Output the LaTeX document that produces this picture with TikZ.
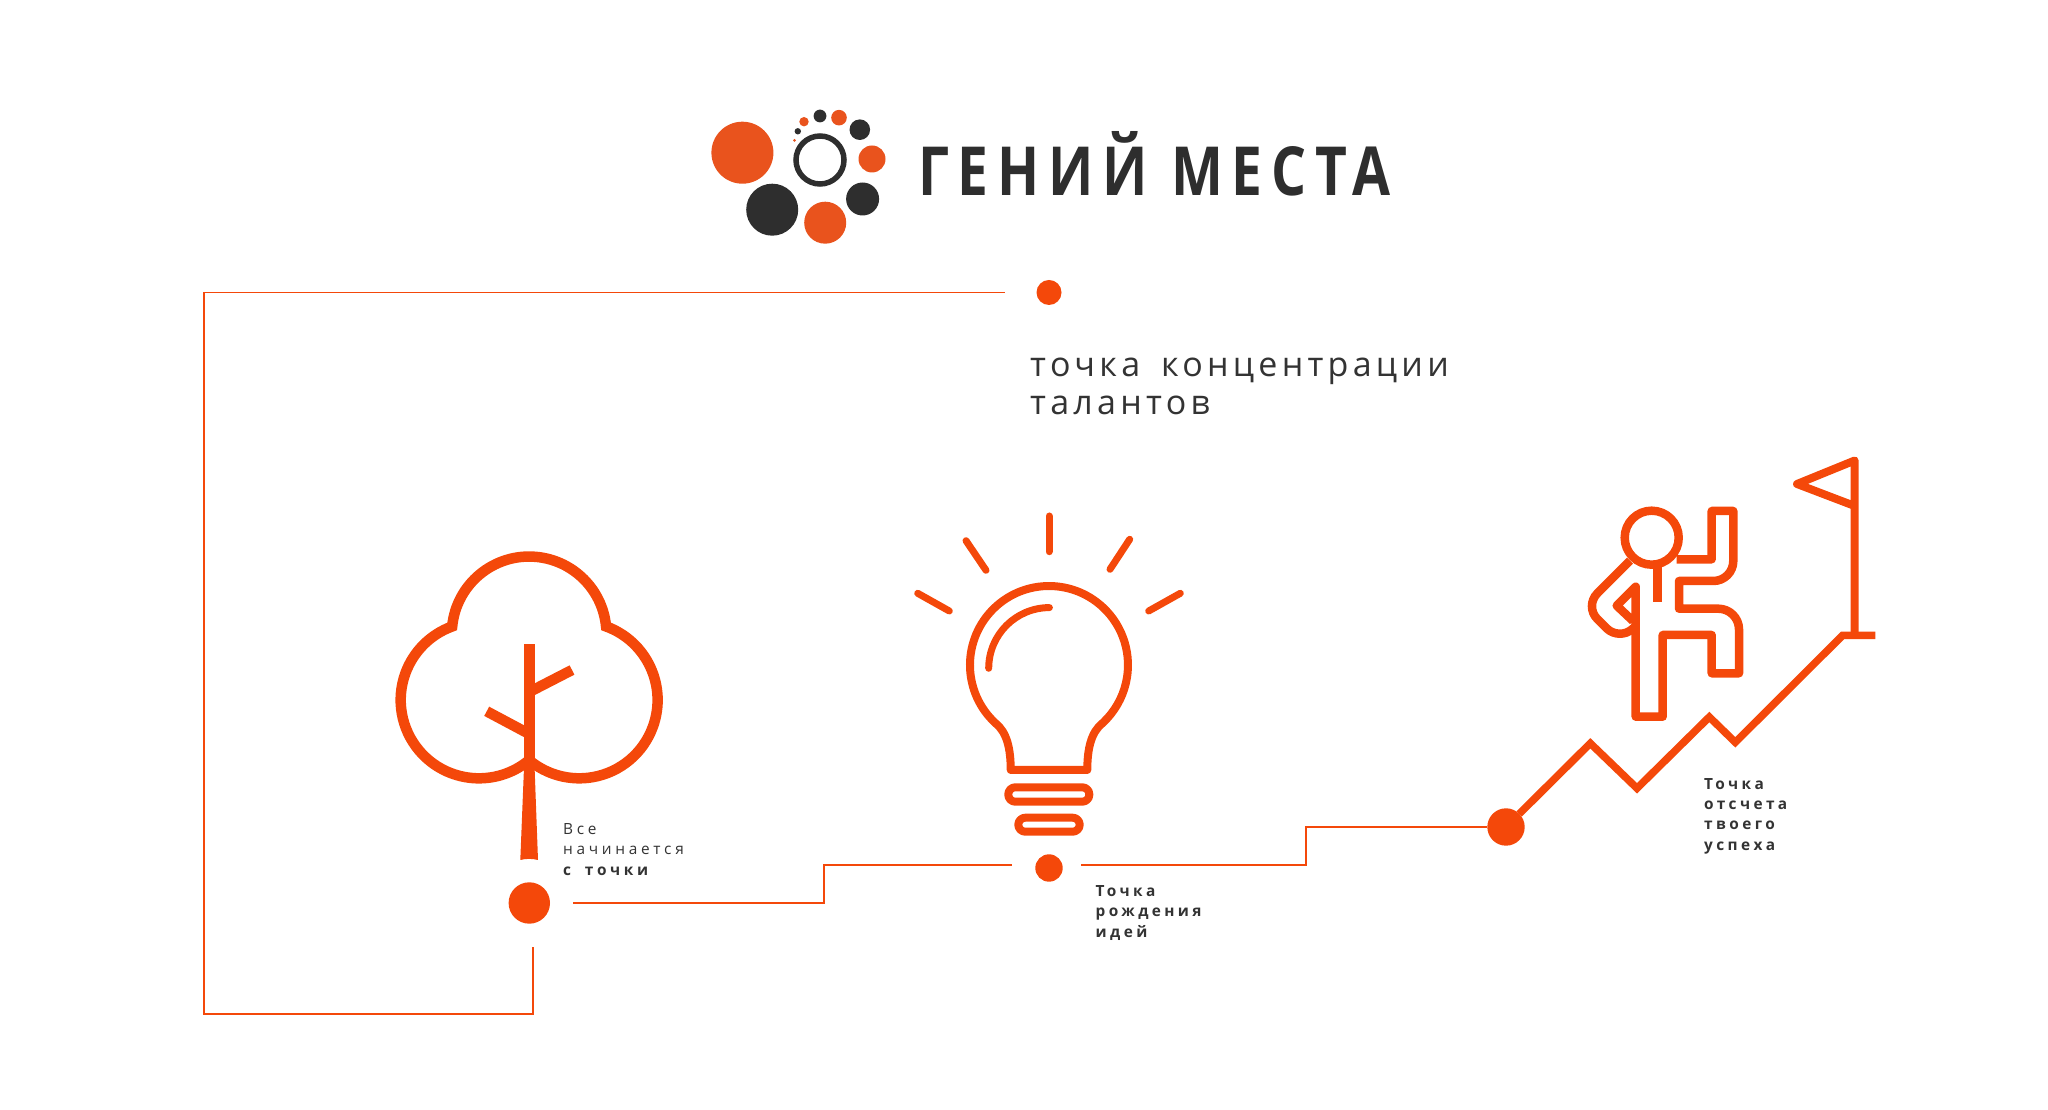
\documentclass[tikz,border=0pt]{standalone}
\usepackage{fontspec}
\setmainfont{Open Sans}
\newfontfamily\logofont[LetterSpace=16]{Open Sans}
\newfontfamily\headfont[LetterSpace=12.5,WordSpace=1.6]{Open Sans}
\newfontfamily\notefont[LetterSpace=24,WordSpace=1.8]{Open Sans}
\newfontfamily\semifont[LetterSpace=22]{Open Sans}

\definecolor{signal}{HTML}{F4480A}
\definecolor{logoorange}{HTML}{E9531D}
\definecolor{logodark}{HTML}{2E2E2E}
\definecolor{inktext}{HTML}{333333}

\tikzset{
  dotpoint/.style={circle,fill=signal,inner sep=0pt,outer sep=0pt,minimum size=#1},
  link/.style={signal,line width=1.7pt},
  icon/.style={signal,line width=8pt,line join=round},
  raybar/.style={signal,line width=7pt,line cap=round},
  treeline/.style={signal,line width=10.5pt},
  figureline/.style={signal,line width=8.5pt,line join=round},
  note/.style={anchor=north west,inner sep=0pt,align=left,text=inktext,font=\notefont\fontsize{15.4}{20.3}\selectfont},
  semi/.style={note,font=\semifont\bfseries\fontsize{15.4}{20.3}\selectfont}
}

\begin{document}
\begin{tikzpicture}[x=1pt, y=1pt]
\useasboundingbox (0,0) rectangle (2048,1109);

% logo
\foreach \px/\py/\rad in {742.4/956.3/31, 825.2/886.3/21, 872/950/13.5, 839/991.3/7.8, 804/987.3/4.7, 794.5/968.7/1.5}
  \fill[logoorange] (\px,\py) circle (\rad);
\foreach \px/\py/\rad in {772.2/899.3/26, 862.6/910/16.5, 859.8/979.3/10.3, 820/993/6.4, 797.8/977.7/3.2}
  \fill[logodark] (\px,\py) circle (\rad);
\draw[logodark,line width=5.5pt] (820,949) circle (24);
\node[anchor=south west,inner sep=0pt,text=logodark] (logotitle) at (918,913) {\resizebox{472pt}{64pt}{\logofont\bfseries ГЕНИЙ МЕСТА}};

% points
\node[dotpoint=25pt] (dotTop) at (1049,816.5) {};
\node[dotpoint=41.4pt] (dotTree) at (529.3,206) {};
\node[dotpoint=27.4pt] (dotBulb) at (1049,241) {};
\node[dotpoint=37.4pt] (dotClimb) at (1506,282) {};

% connectors
\draw[link] ([xshift=-32pt]dotTop.west) -| (204,95) -| ([xshift=3.4pt,yshift=-23pt]dotTree.south);
\draw[link] ([xshift=23.3pt]dotTree.east) -| (824,243.7) -- ([xshift=-23pt,yshift=2.7pt]dotBulb.west);
\draw[link] ([xshift=18.3pt,yshift=2.7pt]dotBulb.east) -| (1306,282) -- (dotClimb);

% tree
\draw[treeline] (529.3,349) arc (310:110:78.3) arc (174.5:5.5:77.3) arc (70:-130:78.3);
\draw[treeline] (529.3,464.7) -- (529.3,349);
\draw[treeline] (529.3,417) -- (572,439);
\draw[treeline] (529.3,375) -- (486.7,397.7);
\fill[signal] (524.3,349) -- (520.3,249) .. controls (526,250.5) and (532,250.5) .. (538,249) -- (534.3,349) -- cycle;

% bulb
\draw[icon] (1010.7,339) .. controls (1010.7,360) and (1007,377) .. (995.1,386.2) arc (227:-47:79)
  .. controls (1091,377) and (1087.3,360) .. (1087.3,339) -- cycle;
\draw[raybar] (988.7,440.7) arc (180:90:60.7);
\draw[raybar] (1049,593) -- (1049,557.3);
\draw[raybar] (1129.7,569.7) -- (1110,539.7);
\draw[raybar] (966,568.3) -- (986,538.7);
\draw[raybar] (917.7,515.7) -- (949.3,498);
\draw[raybar] (1180.3,515.7) -- (1148.7,498);
\draw[icon,rounded corners=7pt] (1008.3,307.3) rectangle (1089.3,321.7);
\draw[icon,rounded corners=7pt] (1018.3,277.3) rectangle (1079.7,291.3);

% climber
\draw[signal,line width=7.5pt] (dotClimb) -- (1590.3,365.7) -- (1637,320.7) -- (1709.3,392) -- (1735.3,366.7) -- (1842.7,473.7) -- (1875.3,473.7);
\draw[icon] (1854.7,473.7) -- (1854.7,648.5) -- (1797,625) -- (1854.7,603);
\draw[figureline] (1651.7,571.3) circle (27);
\draw[figureline] (1676.7,549.7) -- (1711.7,549.7) -- (1711.7,598) -- (1733.3,598) -- (1733.3,548) arc (0:-90:20) -- (1679,528) -- (1679,500.3) -- (1718.3,500.3) arc (90:0:20.7) -- (1739,435.7) -- (1711.7,435.7) -- (1711.7,474) -- (1662.7,474) -- (1662.7,392.3) -- (1635.7,392.3) -- (1635.7,522.3) -- (1616.7,503.3) -- (1633,488);
\draw[figureline,rounded corners=18pt] (1630,548.3) -- (1584.5,502.8) -- (1619.3,468) -- (1635.7,483);
\draw[figureline] (1657.7,546) -- (1657.7,507.3);

% labels
\node[anchor=north west,inner sep=0pt,align=left,text=inktext,font=\headfont\fontsize{34}{38}\selectfont] (headline) at (1030,751.5) {точка концентрации\\талантов};
\node[note] (noteTree) at (563,285.5) {Все\\начинается\\{\bfseries с точки}};
\node[semi] (noteBulb) at (1095.5,223.5) {Точка\\рождения\\идей};
\node[semi] (noteClimb) at (1704,331) {Точка\\отсчета\\твоего\\успеха};

\end{tikzpicture}
\end{document}
